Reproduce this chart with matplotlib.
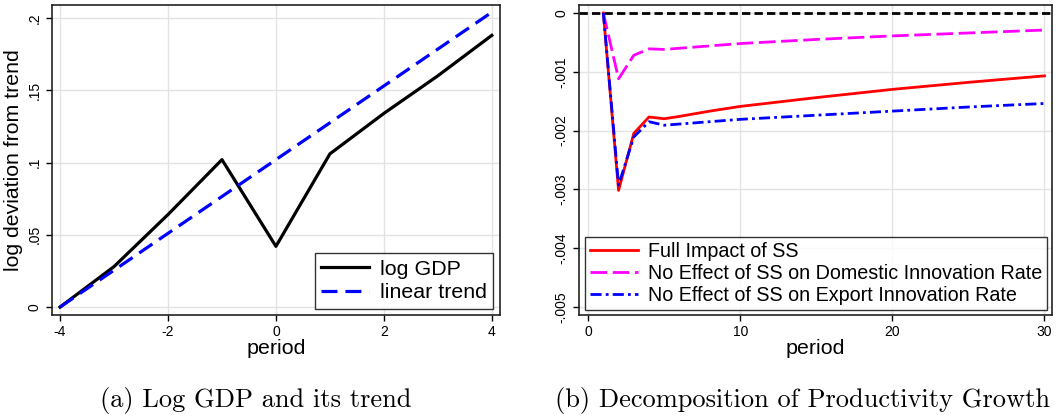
import matplotlib
matplotlib.use("Agg")
from matplotlib import pyplot as plt
from matplotlib.ticker import FuncFormatter

plt.rcParams["axes.unicode_minus"] = False

# panel (a): log GDP and its linear trend
period_a = [-4, -3, -2, -1, 0, 1, 2, 3, 4]
log_gdp = [0.0, 0.028, 0.064, 0.102, 0.042, 0.106, 0.134, 0.160, 0.188]
trend_x = [-4, 4]
trend_y = [0.0, 0.204]

# panel (b): decomposition of productivity growth
period_b = [1, 2, 3, 4, 5, 6, 8, 10, 15, 20, 25, 30]
full_impact = [0.0, -0.00302, -0.00205, -0.00177, -0.00180, -0.00176, -0.00167, -0.00159,
               -0.00144, -0.00130, -0.00118, -0.00107]
no_domestic = [0.0, -0.00112, -0.00072, -0.00061, -0.00062, -0.00060, -0.00056, -0.00052,
               -0.00045, -0.00039, -0.00034, -0.00029]
no_export = [0.0, -0.00293, -0.00211, -0.00185, -0.00191, -0.00189, -0.00185, -0.00181,
             -0.00174, -0.00167, -0.00160, -0.00154]

sans = ["Liberation Sans", "DejaVu Sans"]
grid_col = "#e3e3e3"


def stata_fmt(v, pos):
    # stata style labels: .05 instead of 0.05
    if abs(v) < 1e-12:
        return "0"
    s = f"{v:g}"
    if "e" in s:
        s = f"{v:.3f}"
    return s.replace("0.", ".")


def style_axes(ax):
    ax.grid(True, color=grid_col, linewidth=1.0)
    ax.set_axisbelow(True)
    for sp in ax.spines.values():
        sp.set_linewidth(1.2)
        sp.set_color("#222222")
    ax.tick_params(direction="out", length=4, width=1, labelsize=10)
    for lab in ax.get_xticklabels() + ax.get_yticklabels():
        lab.set_family(sans)
    for lab in ax.get_yticklabels():
        lab.set_rotation(90)
        lab.set_va("center")
    ax.set_xlabel("period", fontsize=15.4, family=sans, labelpad=0)


fig = plt.figure(figsize=(10.56, 4.17), dpi=100)

# ---- left panel
ax1 = fig.add_axes([0.0492, 0.2446, 0.4242, 0.7434])
ax1.plot(period_a, log_gdp, color="black", linewidth=2.3, label="log GDP")
ax1.plot(trend_x, trend_y, color="#0000ff", linewidth=2.3, dashes=(5, 2.5), label="linear trend")
ax1.set_xlim(-4.15, 4.15)
ax1.set_ylim(-0.0055, 0.209)
ax1.set_xticks([-4, -2, 0, 2, 4])
ax1.set_yticks([0, 0.05, 0.1, 0.15, 0.2])
ax1.yaxis.set_major_formatter(FuncFormatter(stata_fmt))
ax1.set_ylabel("log deviation from trend", fontsize=15.3, family=sans, labelpad=3)
style_axes(ax1)
leg1 = ax1.legend(loc="lower right", prop={"family": sans, "size": 15.4}, frameon=True,
                  fancybox=False, edgecolor="black", handlelength=2.25, borderaxespad=0.3,
                  borderpad=0.3, labelspacing=0.2, handletextpad=0.5)
leg1.get_frame().set_linewidth(1.0)

# ---- right panel
ax2 = fig.add_axes([0.5483, 0.2446, 0.448, 0.7434])
ax2.axhline(0, color="black", linewidth=2, dashes=(3, 1.5))
ax2.plot(period_b, full_impact, color="#ff0000", linewidth=2, label="Full Impact of SS")
ax2.plot(period_b, no_domestic, color="#ff00ff", linewidth=2, dashes=(6, 2),
         label="No Effect of SS on Domestic Innovation Rate")
ax2.plot(period_b, no_export, color="#0000ff", linewidth=2, dashes=(4, 1.5, 1, 1.5),
         label="No Effect of SS on Export Innovation Rate")
ax2.set_xlim(-0.6, 30.5)
ax2.set_ylim(-0.00514, 0.000136)
ax2.set_xticks([0, 10, 20, 30])
ax2.set_yticks([0, -0.001, -0.002, -0.003, -0.004, -0.005])
ax2.yaxis.set_major_formatter(FuncFormatter(stata_fmt))
style_axes(ax2)
leg2 = ax2.legend(loc="lower right", prop={"family": sans, "size": 14.2},
                  frameon=True, fancybox=False, edgecolor="black", handlelength=2.45,
                  borderaxespad=0.25, borderpad=0.25, labelspacing=0.15, handletextpad=0.5)
leg2.get_frame().set_linewidth(1.0)

# captions
fig.text(0.2424, 0.024, "(a) Log GDP and its trend", family="cmr10", fontsize=19, ha="center")
fig.text(0.760, 0.024, "(b) Decomposition of Productivity Growth", family="cmr10",
         fontsize=19, ha="center")

fig.savefig("out.png", dpi=100)
